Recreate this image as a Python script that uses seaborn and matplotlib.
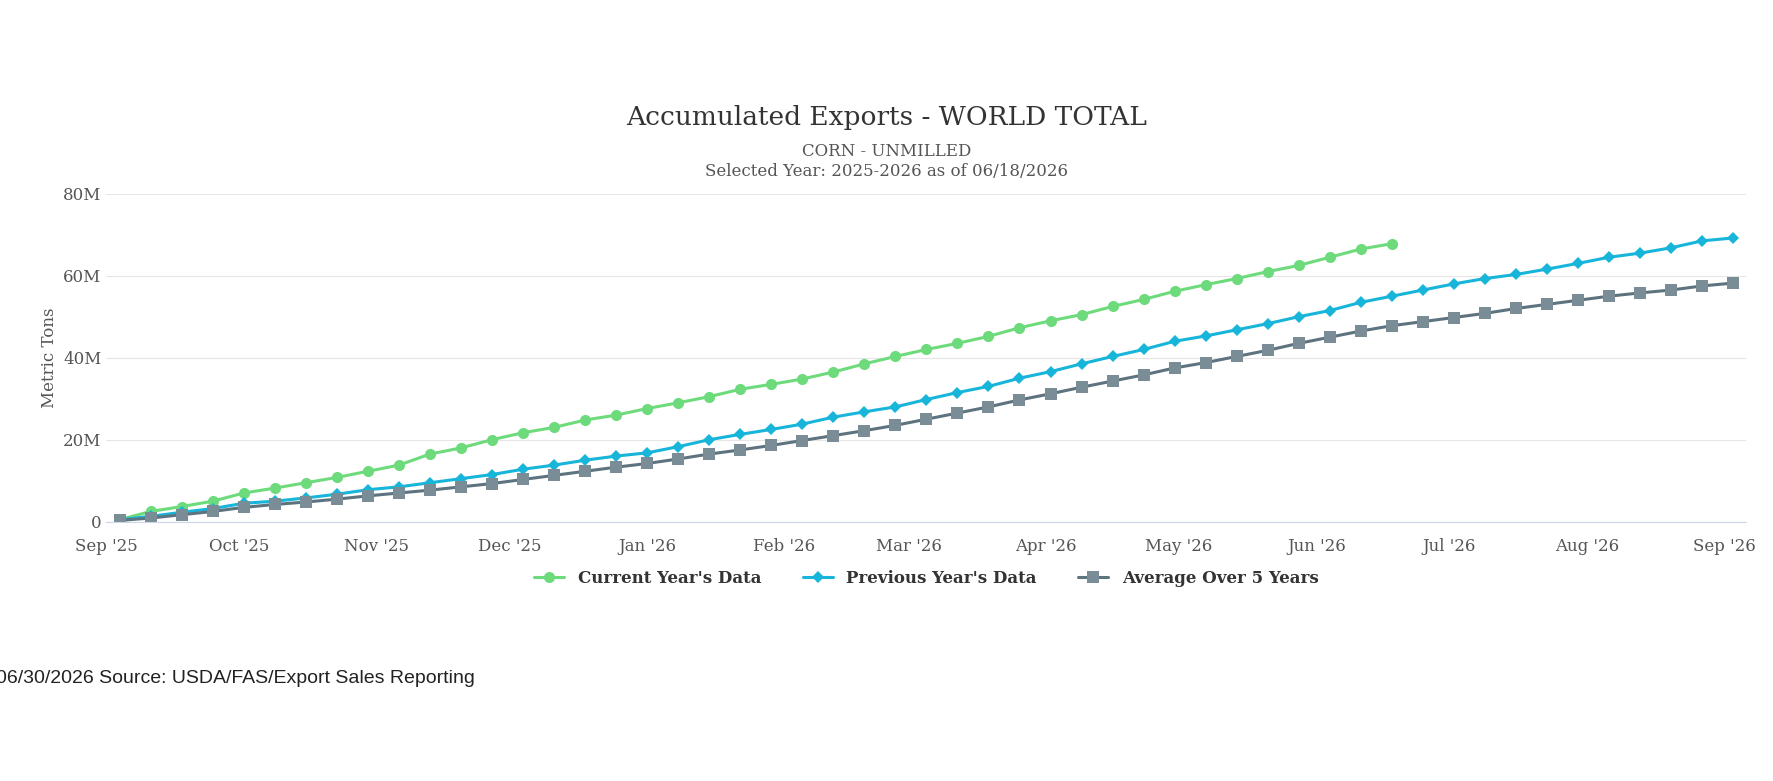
import matplotlib
matplotlib.use("Agg")
import matplotlib.pyplot as plt
import matplotlib.dates as mdates
import numpy as np
import pandas as pd
import seaborn as sns

current = [0.5, 2.5, 3.7, 5.0, 7.0, 8.2, 9.5, 10.8, 12.3, 13.8, 16.5, 18.0, 20.0, 21.7,
           23.0, 24.8, 26.0, 27.6, 29.0, 30.5, 32.3, 33.5, 34.8, 36.5, 38.5, 40.3, 42.0,
           43.5, 45.2, 47.3, 49.0, 50.5, 52.5, 54.2, 56.2, 57.8, 59.3, 61.0, 62.5, 64.5,
           66.5, 67.8]
previous = [0.5, 1.3, 2.3, 3.2, 4.5, 5.0, 5.8, 6.7, 7.8, 8.5, 9.5, 10.5, 11.5, 12.8, 13.8,
            15.0, 16.0, 16.8, 18.3, 20.0, 21.3, 22.5, 23.8, 25.5, 26.8, 28.0, 29.8, 31.5,
            33.0, 35.0, 36.6, 38.5, 40.3, 42.0, 44.0, 45.3, 46.8, 48.3, 50.0, 51.5, 53.5,
            55.0, 56.5, 58.0, 59.3, 60.3, 61.6, 63.0, 64.5, 65.5, 66.8, 68.5, 69.2]
average = [0.3, 0.9, 1.7, 2.5, 3.5, 4.2, 4.8, 5.5, 6.3, 7.0, 7.7, 8.5, 9.3, 10.3, 11.3,
           12.3, 13.3, 14.2, 15.3, 16.5, 17.5, 18.6, 19.8, 21.0, 22.2, 23.5, 25.0, 26.5,
           28.0, 29.7, 31.2, 32.8, 34.3, 35.8, 37.5, 38.8, 40.3, 41.8, 43.5, 45.0, 46.5,
           47.8, 48.8, 49.8, 50.8, 52.0, 53.0, 54.0, 55.0, 55.8, 56.5, 57.5, 58.2]

weeks = pd.date_range("2025-09-04", periods=53, freq="7D")
df = pd.concat([
    pd.DataFrame({"date": weeks[:len(current)], "val": np.array(current) * 1e6, "s": "Current Year's Data"}),
    pd.DataFrame({"date": weeks, "val": np.array(previous) * 1e6, "s": "Previous Year's Data"}),
    pd.DataFrame({"date": weeks, "val": np.array(average) * 1e6, "s": "Average Over 5 Years"}),
])

sns.set_style("white")
plt.rcParams["font.family"] = ["DejaVu Serif"]
fig, ax = plt.subplots(figsize=(17.73, 7.81), dpi=100)
fig.subplots_adjust(left=0.06, right=0.985, top=0.752, bottom=0.332)

styles = {"Current Year's Data": ("#6ddb7b", "o", 8),
          "Previous Year's Data": ("#17b5d9", "D", 6),
          "Average Over 5 Years": ("#5e7380", "s", 8)}
for name, (c, m, ms) in styles.items():
    sub = df[df.s == name]
    mfc = c if name != "Average Over 5 Years" else "#7a8c96"
    sns.lineplot(data=sub, x="date", y="val", ax=ax, color=c, marker=m, markersize=ms,
                 markeredgewidth=0, linewidth=2.2, label=name,
                 markerfacecolor=mfc)

ax.set_xlim(pd.Timestamp("2025-09-01"), pd.Timestamp("2026-09-06"))
ax.set_ylim(0, 80e6)
ax.set_yticks([0, 20e6, 40e6, 60e6, 80e6])
ax.set_yticklabels(["0", "20M", "40M", "60M", "80M"])
ax.xaxis.set_major_locator(mdates.MonthLocator())
ax.xaxis.set_major_formatter(mdates.DateFormatter("%b '%y"))
ax.tick_params(axis="both", labelsize=12, colors="#555555", length=0)
ax.tick_params(axis="x", length=8, color="#ccd6eb", pad=4)
ax.grid(axis="y", color="#e6e6e6")
for sp in ["top", "right", "left"]:
    ax.spines[sp].set_visible(False)
ax.spines["bottom"].set_color("#ccd6eb")
ax.set_xlabel("")
ax.set_ylabel("Metric Tons", fontsize=12, color="#555555")

fig.text(0.5, 0.84, "Accumulated Exports - WORLD TOTAL", ha="center", fontsize=19, color="#333333")
fig.text(0.5, 0.80, "CORN - UNMILLED", ha="center", fontsize=12, color="#555555")
fig.text(0.5, 0.775, "Selected Year: 2025-2026 as of 06/18/2026", ha="center", fontsize=12, color="#555555")

leg = ax.legend(loc="upper center", bbox_to_anchor=(0.5, -0.1), ncol=3, frameon=False,
                fontsize=12, handlelength=1.8, columnspacing=2.5)
for t in leg.get_texts():
    t.set_fontweight("bold")
    t.set_color("#333333")

fig.text(-0.002, 0.125, "06/30/2026 Source: USDA/FAS/Export Sales Reporting", fontsize=14,
         family=["Liberation Sans", "DejaVu Sans"], color="#222222")
fig.savefig("out.png", dpi=100)
